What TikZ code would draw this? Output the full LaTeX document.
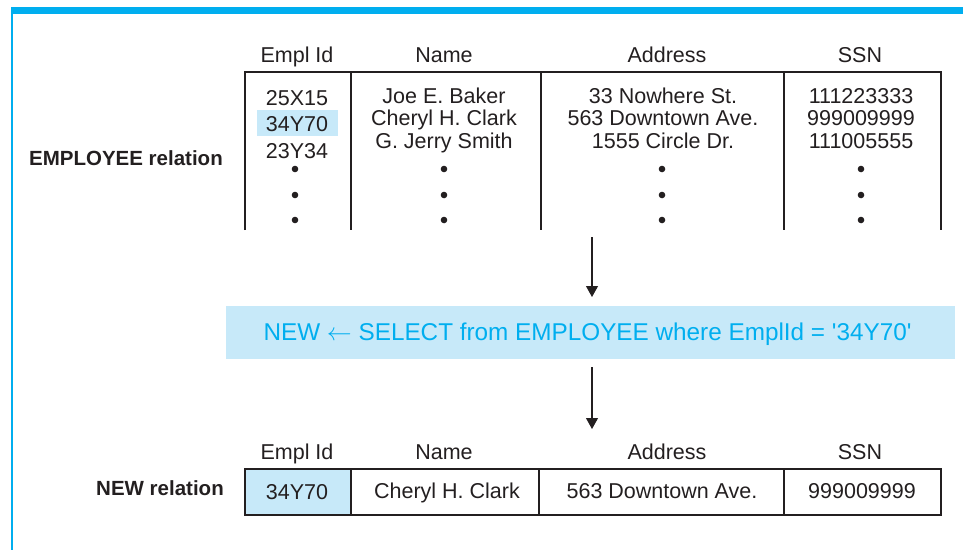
\documentclass[tikz,border=0pt]{standalone}
\usepackage{fontspec}
\setmainfont{Liberation Sans}
\usetikzlibrary{arrows.meta}
\definecolor{frameblue}{HTML}{00AEEF}
\definecolor{lightblue}{HTML}{C7E9F9}
\definecolor{ink}{HTML}{231F20}
\begin{document}
\begin{tikzpicture}[x=1pt,y=-1pt,
  txt/.style={font=\fontsize{21.5}{22}\selectfont, text=ink, anchor=base, inner sep=0pt},
  lbl/.style={font=\fontsize{20.5}{22}\selectfont\bfseries, text=ink, anchor=base east, inner sep=0pt},
  seltxt/.style={font=\fontsize{24.3}{26}\selectfont, text=frameblue, anchor=base, inner sep=0pt},
  tbl/.style={draw=ink, line width=1.1pt},
  arr/.style={draw=ink, line width=1.1pt, -{Triangle[width=12pt,length=11pt]}},
  dot/.style={fill=ink}]
\useasboundingbox (0,0) rectangle (963,550);
% frame
\fill[frameblue] (11,7) rectangle (963,14);
\draw[frameblue, line width=1.7pt] (11.8,7) -- (11.8,550);

% ---------- EMPLOYEE relation ----------
\node[lbl] (emplbl) at (223,165.7) {EMPLOYEE relation};
\node[txt] (h1) at (297,62.7) {Empl Id};
\node[txt] (h2) at (444,62.7) {Name};
\node[txt] (h3) at (667,62.7) {Address};
\node[txt] (h4) at (860,62.7) {SSN};
\draw[tbl] (245,230) -- (245,72) -- (941,72) -- (941,230);
\draw[tbl] (351,72) -- (351,230);
\draw[tbl] (541,72) -- (541,230);
\draw[tbl] (784,72) -- (784,230);
% highlight
\fill[lightblue] (257,110) rectangle (338,136);
% column 1
\node[txt] (e1) at (297,105) {25X15};
\node[txt] (e2) at (297,131) {34Y70};
\node[txt] (e3) at (297,158) {23Y34};
% column 2
\node[txt] (n1) at (444,103) {Joe E. Baker};
\node[txt] (n2) at (444,125.5) {Cheryl H. Clark};
\node[txt] (n3) at (444,148) {G. Jerry Smith};
% column 3
\node[txt] (a1) at (663,103) {33 Nowhere St.};
\node[txt] (a2) at (663,125.5) {563 Downtown Ave.};
\node[txt] (a3) at (663,148) {1555 Circle Dr.};
% column 4
\node[txt] (s1) at (861,103) {111223333};
\node[txt] (s2) at (861,125.5) {999009999};
\node[txt] (s3) at (861,148) {111005555};
% dots
\foreach \x in {295,444,662,861}{
  \foreach \y in {169,195,220}{
    \fill[dot] (\x,\y) circle (3.3pt);
  }
}

% ---------- SELECT ----------
\node[fill=lightblue, minimum width=729pt, minimum height=53pt, inner sep=0pt] (sel) at (590.5,332.5) {};
\node[seltxt] (seltext) at (587.5,340.7) {NEW $\leftarrow$ SELECT from EMPLOYEE where EmplId = \textquotesingle 34Y70\textquotesingle};
\coordinate (ar1s) at (592,237);
\coordinate (ar1e) at (592,297);
\coordinate (ar2s) at (592,367);
\coordinate (ar2e) at (592,429);
\draw[arr] (ar1s) -- (ar1e);
\draw[arr] (ar2s) -- (ar2e);

% ---------- NEW relation ----------
\node[lbl] (newlbl) at (224,495.7) {NEW relation};
\node[txt] (g1) at (297,459.3) {Empl Id};
\node[txt] (g2) at (444,459.3) {Name};
\node[txt] (g3) at (667,459.3) {Address};
\node[txt] (g4) at (860,459.3) {SSN};
\fill[lightblue] (245,469) rectangle (351,515);
\draw[tbl] (245,469) rectangle (941,515);
\draw[tbl] (351,469) -- (351,515);
\draw[tbl] (539,469) -- (539,515);
\draw[tbl] (784,469) -- (784,515);
\node[txt] (c1) at (297,499) {34Y70};
\node[txt] (c2) at (447,498.5) {Cheryl H. Clark};
\node[txt] (c3) at (662,498.5) {563 Downtown Ave.};
\node[txt] (c4) at (862,498.5) {999009999};
\end{tikzpicture}
\end{document}
